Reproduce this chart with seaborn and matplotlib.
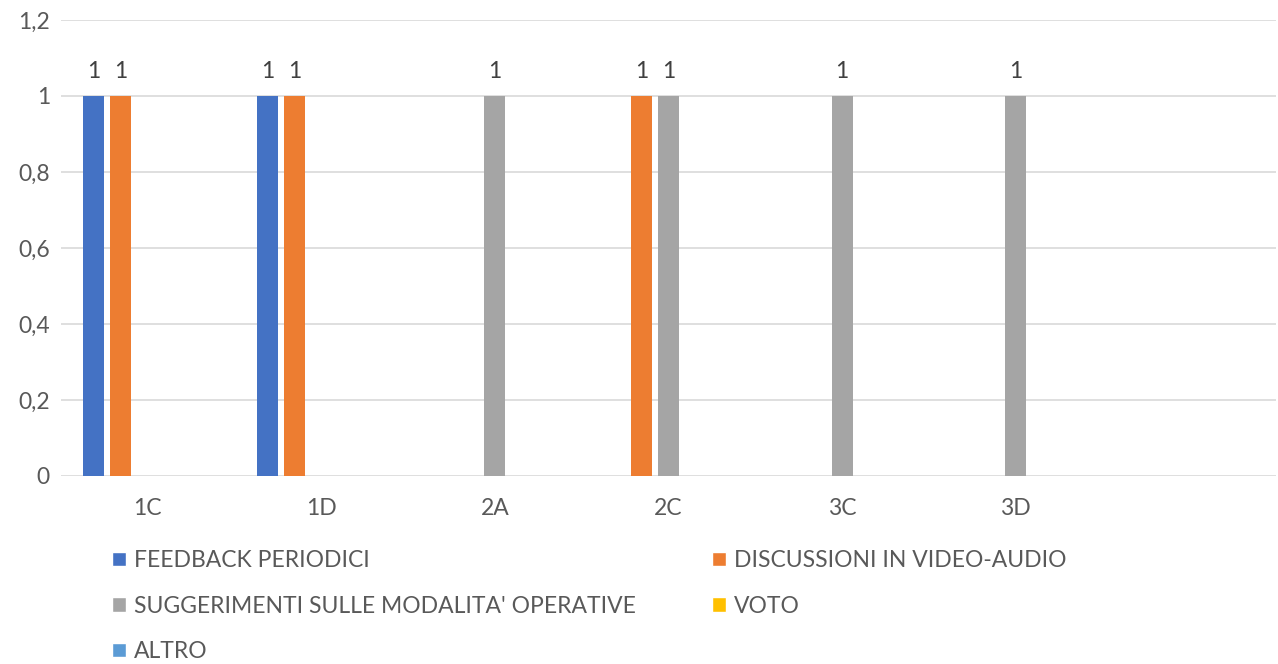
import numpy as np
import pandas as pd
import matplotlib
matplotlib.use("Agg")
import matplotlib.pyplot as plt
import seaborn as sns
from matplotlib.patches import Patch
from matplotlib.ticker import FuncFormatter

# classi (l'ultima colonna del grafico originale è vuota)
classi = ['1C', '1D', '2A', '2C', '3C', '3D']
ordine = classi + [' ']
serie = ['FEEDBACK PERIODICI', 'DISCUSSIONI IN VIDEO-AUDIO',
         "SUGGERIMENTI SULLE MODALITA' OPERATIVE", 'VOTO', 'ALTRO']
colori = ['#4472C4', '#ED7D31', '#A5A5A5', '#FFC000', '#5B9BD5']

feedback = [1, 1, 0, 0, 0, 0]
discussioni = [1, 1, 0, 1, 0, 0]
suggerimenti = [0, 0, 1, 1, 1, 1]
voto = [0, 0, 0, 0, 0, 0]
altro = [0, 0, 0, 0, 0, 0]

valori = [feedback, discussioni, suggerimenti, voto, altro]
rows = []
for nome, vals in zip(serie, valori):
    for c, v in zip(classi, vals):
        rows.append({'classe': c, 'serie': nome, 'valore': v})
df = pd.DataFrame(rows)

sns.set_theme(style='white')
plt.rcParams['font.family'] = ['Lato', 'DejaVu Sans']
grigio = '#595959'
fs = 16.5

fig, ax = plt.subplots(figsize=(12.78, 6.64), dpi=100)
fig.subplots_adjust(left=61/1278, right=1276/1278, bottom=1-476/664, top=1-20/664)

sns.barplot(data=df, x='classe', y='valore', hue='serie', order=ordine,
            hue_order=serie, palette=colori, saturation=1, width=0.778, gap=0.22,
            errorbar=None, linewidth=0, legend=False, ax=ax)

for cont in ax.containers:
    labs = ['1' if v > 0 else '' for v in cont.datavalues]
    ax.bar_label(cont, labels=labs, padding=10, fontsize=fs, color='#404040')

ax.set_ylim(0, 1.2)
ax.set_yticks(np.round(np.arange(0, 1.21, 0.2), 1))
ax.yaxis.set_major_formatter(FuncFormatter(lambda v, p: f"{round(v, 1):g}".replace('.', ',')))
ax.yaxis.grid(True, color='#D9D9D9', linewidth=1.2)
ax.set_axisbelow(True)
for s in ax.spines.values():
    s.set_visible(False)
ax.tick_params(axis='both', length=0, labelsize=fs, labelcolor=grigio)
ax.tick_params(axis='x', pad=16)
ax.tick_params(axis='y', pad=8)
ax.set_xlabel('')
ax.set_ylabel('')

# legenda su due colonne, come nell'originale
handles = [Patch(facecolor=c, label=s) for s, c in zip(serie, colori)]
kw = dict(loc='upper left', frameon=False, fontsize=fs, labelcolor=grigio,
          handlelength=0.62, handleheight=0.62, handletextpad=0.35,
          labelspacing=1.07, borderpad=0, borderaxespad=0)
fig.legend(handles=[handles[0], handles[2], handles[4]],
           bbox_to_anchor=(112/1278, 1-550/664), **kw)
fig.legend(handles=[handles[1], handles[3]],
           bbox_to_anchor=(712/1278, 1-550/664), **kw)

plt.savefig('out.png', dpi=100)
